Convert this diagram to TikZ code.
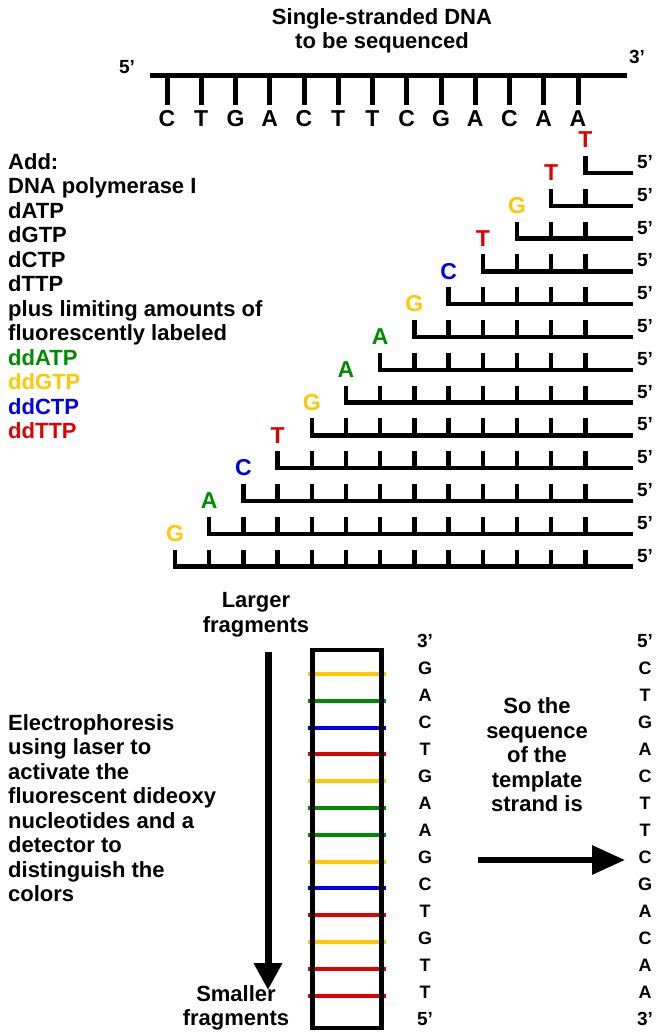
\documentclass[tikz,border=0pt]{standalone}
\usepackage{fontspec}
\setmainfont{Liberation Sans}
\usetikzlibrary{arrows.meta}
\usepackage{xcolor}
\definecolor{ddA}{RGB}{0,140,0}
\definecolor{ddG}{RGB}{255,200,0}
\definecolor{ddC}{RGB}{0,0,240}
\definecolor{ddT}{RGB}{225,0,0}

\begin{document}
\begin{tikzpicture}[x=1pt, y=-1pt,
  strand/.style={line width=5pt},
  frag/.style={line width=4.5pt, line join=miter},
  band/.style={line width=4pt},
  base/.style={font=\bfseries\fontsize{23}{23}\selectfont, inner sep=0pt},
  prime/.style={font=\bfseries\fontsize{19}{19}\selectfont, inner sep=0pt},
  seq/.style={font=\bfseries\fontsize{18}{18}\selectfont, inner sep=0pt},
  note/.style={font=\bfseries\fontsize{22}{24.5}\selectfont, inner sep=0pt, align=left},
  arr/.style={-{Triangle[length=27pt, width=27pt]}, line width=7pt}
]
\useasboundingbox (0,0) rectangle (661,1034);

%% Template strand to be sequenced
\node[note, align=center] (title) at (382,31) {Single-stranded DNA\\to be sequenced};
\node[prime] (t5) at (127,67) {5'};
\node[prime] (t3) at (637,57) {3'};
\coordinate (tl) at (150,75);
\coordinate (tr) at (627,75);
\draw[strand] (tl) -- (tr);
\foreach \i/\b in {0/C,1/T,2/G,3/A,4/C,5/T,6/T,7/C,8/G,9/A,10/C,11/A,12/A} {
  \draw[strand] (167+34.25*\i,75) -- ++(0,30);
  \node[base] (t\i) at (167+34.25*\i,119) {\b};
}

%% Reaction mix
\node[note, anchor=north west] (add) at (8,153)
  {Add:\\DNA polymerase I\\dATP\\dGTP\\dCTP\\dTTP\\plus limiting amounts of\\fluorescently labeled\\
   \textcolor{ddA}{ddATP}\\\textcolor{ddG}{ddGTP}\\\textcolor{ddC}{ddCTP}\\\textcolor{ddT}{ddTTP}};

%% Terminated fragments, shortest on top
\foreach \k/\b/\c in {1/T/ddT,2/T/ddT,3/G/ddG,4/T/ddT,5/C/ddC,6/G/ddG,7/A/ddA,
                      8/A/ddA,9/G/ddG,10/T/ddT,11/C/ddC,12/A/ddA,13/G/ddG} {
  \pgfmathsetmacro\ry{173+32.8*(\k-1)}
  \pgfmathsetmacro\rx{175+34.2*(13-\k)}
  \draw[frag] (\rx,\ry-17) -- (\rx,\ry) -- (633,\ry);
  \foreach \j in {1,...,\k} {
    \pgfmathsetmacro\tx{175+34.2*(13-\j)}
    \draw[frag] (\tx,\ry-17) -- (\tx,\ry);
  }
  \node[base, text=\c] (dd\k) at (\rx,\ry-33) {\b};
  \node[prime] (f\k) at (645,\ry-11) {5'};
}

%% Gel
\node[note, align=center] (larger) at (256,615) {Larger\\fragments};
\node[note, align=center] (smaller) at (236,1008) {Smaller\\fragments};
\coordinate (gtop) at (268,652);
\coordinate (gbot) at (268,990);
\draw[arr] (gtop) -- (gbot);

\foreach \i/\c in {0/ddG,1/ddA,2/ddC,3/ddT,4/ddG,5/ddA,6/ddA,7/ddG,8/ddC,9/ddT,10/ddG,11/ddT,12/ddT}
  \draw[band, \c] (308,674+26.8*\i) -- (386,674+26.8*\i);
\node[draw, line width=4.5pt, minimum width=69pt, minimum height=378pt] (gel) at (347,839) {};

\node[note, anchor=north west] (elec) at (8,714)
  {Electrophoresis\\using laser to\\activate the\\fluorescent dideoxy\\nucleotides and a\\detector to\\distinguish the\\colors};

%% Read-out
\node[prime] (r0) at (425,641) {3'};
\foreach \i/\b in {1/G,2/A,3/C,4/T,5/G,6/A,7/A,8/G,9/C,10/T,11/G,12/T,13/T}
  \node[seq] (r\i) at (425,641+27*\i) {\b};
\node[prime] (r14) at (425,1019) {5'};

\node[note, align=center] (sothe) at (537,755) {So the\\sequence\\of the\\template\\strand is};
\coordinate (hleft) at (478,860);
\coordinate (hright) at (625,860);
\draw[arr, line width=6pt, -{Triangle[length=33pt, width=28pt]}] (hleft) -- (hright);

\node[prime] (s0) at (645,641) {5'};
\foreach \i/\b in {1/C,2/T,3/G,4/A,5/C,6/T,7/T,8/C,9/G,10/A,11/C,12/A,13/A}
  \node[seq] (s\i) at (645,641+27*\i) {\b};
\node[prime] (s14) at (645,1019) {3'};
\end{tikzpicture}
\end{document}
